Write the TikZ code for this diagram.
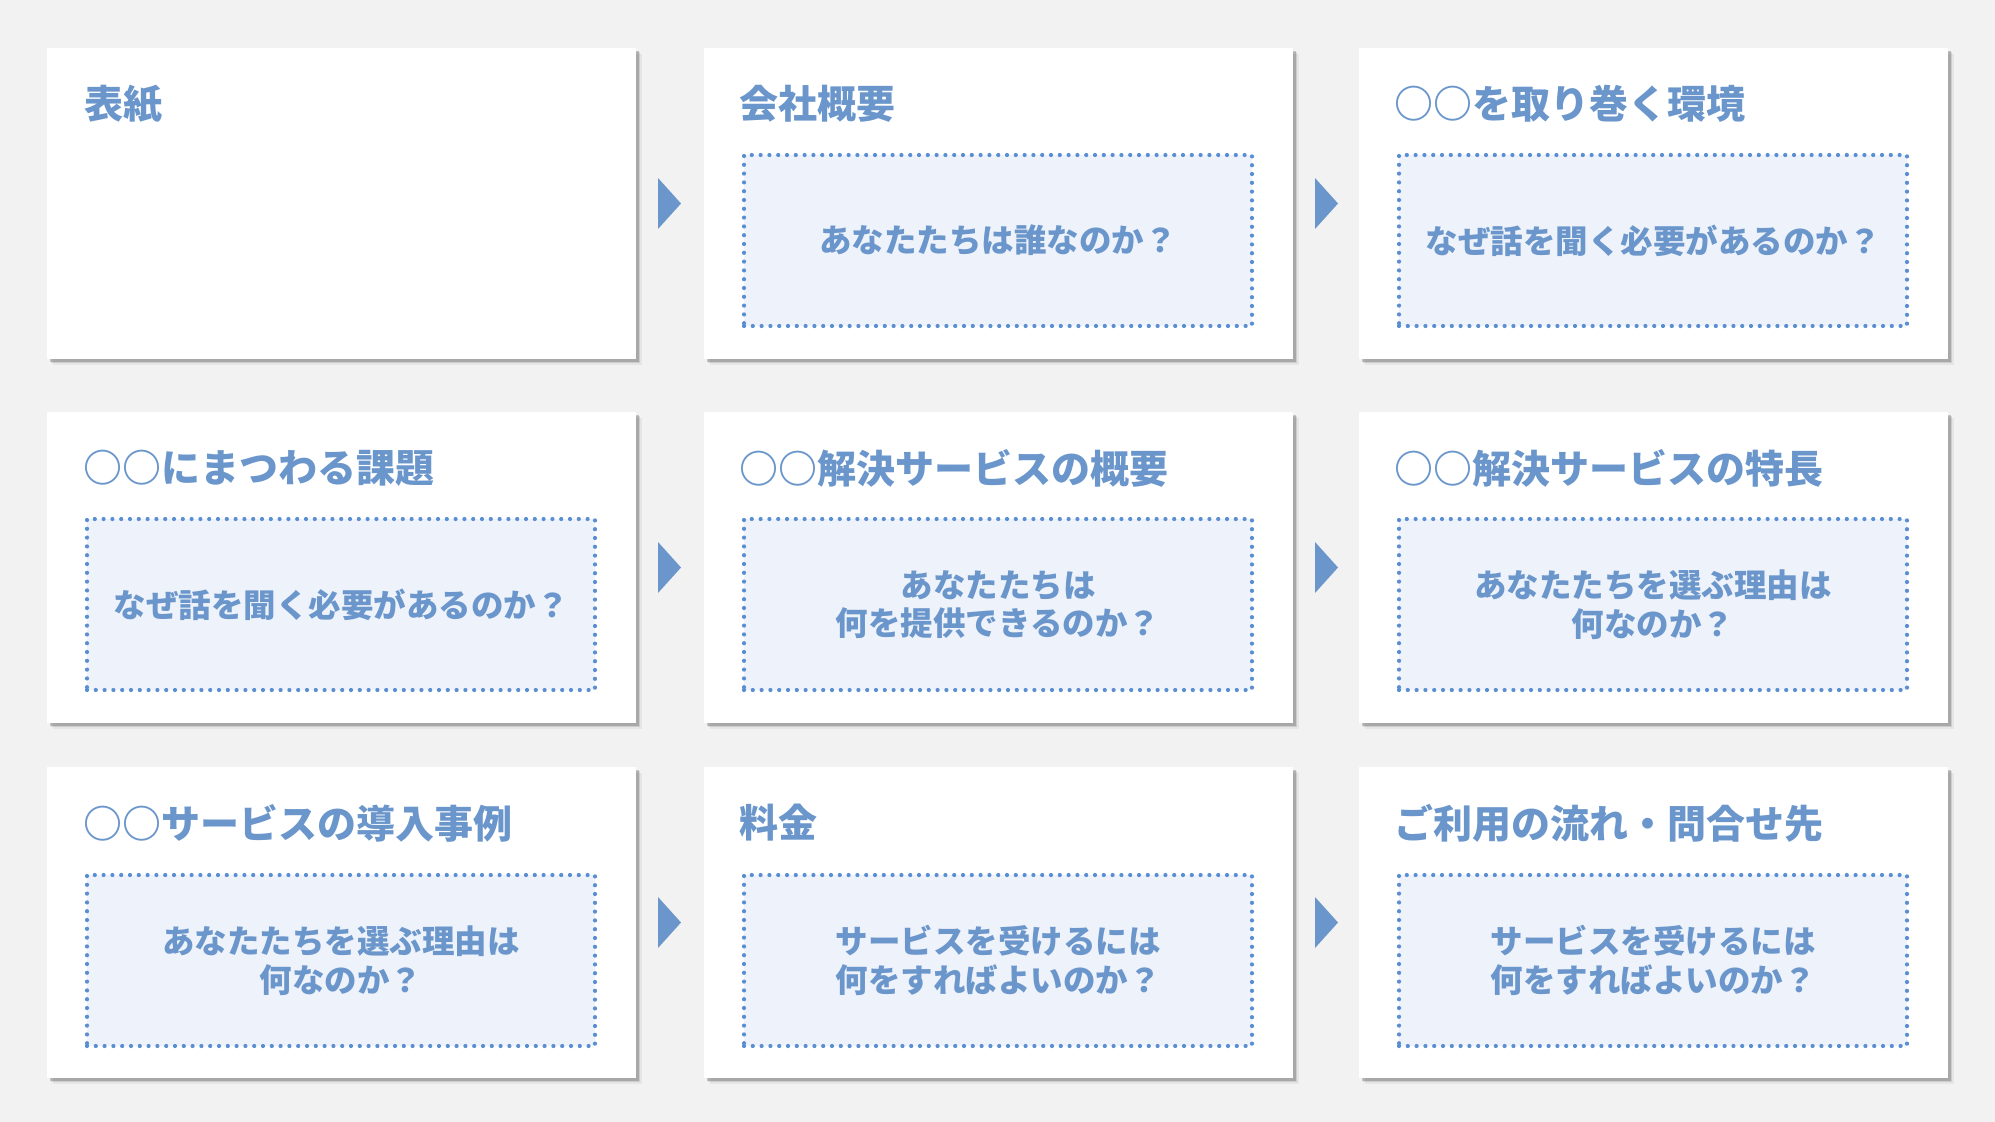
\documentclass[tikz,border=0pt]{standalone}
\usepackage{fontspec}
\newfontfamily\jp{Noto Sans CJK JP}
\usetikzlibrary{shadows,calc}
\definecolor{bgc}{HTML}{F2F2F2}
\definecolor{bluec}{HTML}{6A96CB}
\definecolor{dotc}{HTML}{5A8ED3}
\definecolor{boxc}{HTML}{EEF2FA}
\tikzset{
  card/.style={draw=none,fill=white,rectangle,anchor=north west,inner sep=0pt,outer sep=0pt,
    minimum width=589pt,minimum height=311pt,
    drop shadow={shadow xshift=5.5pt,shadow yshift=-5.5pt,fill=black,opacity=.05},
    drop shadow={shadow xshift=4pt,shadow yshift=-4pt,fill=black,opacity=.10},
    drop shadow={shadow xshift=2.5pt,shadow yshift=-2.5pt,fill=black,opacity=.18}},
  qbox/.style={rectangle,anchor=north west,inner sep=0pt,outer sep=0pt,fill=boxc,draw=dotc,
    line width=4.2pt,line cap=round,dash pattern=on 0pt off 8.8pt,
    minimum width=508pt,minimum height=171pt},
  title/.style={anchor=west,inner sep=0pt,text=bluec,font=\jp\bfseries\fontsize{39}{44}\selectfont},
  qtext/.style={align=center,text=bluec,font=\jp\bfseries\fontsize{32.5}{38.5}\selectfont},
  arrowtri/.style={fill=bluec,draw=none}
}
\begin{document}
\begin{tikzpicture}[x=1pt,y=-1pt]
\fill[bgc] (0,0) rectangle (1995,1122);
\useasboundingbox (0,0) rectangle (1995,1122);
% cards
\node[card] (c1) at (47,48) {};
\node[card] (c2) at (704,48) {};
\node[card] (c3) at (1359,48) {};
\node[card] (c4) at (47,412) {};
\node[card] (c5) at (704,412) {};
\node[card] (c6) at (1359,412) {};
\node[card] (c7) at (47,767) {};
\node[card] (c8) at (704,767) {};
\node[card] (c9) at (1359,767) {};
% titles
\node[title] (t1) at ($(c1.north west)+(37,56)$) {表紙};
\node[title] (t2) at ($(c2.north west)+(35,56)$) {会社概要};
\node[title] (t3) at ($(c3.north west)+(35,56)$) {○○を取り巻く環境};
\node[title] (t4) at ($(c4.north west)+(36,56)$) {○○にまつわる課題};
\node[title] (t5) at ($(c5.north west)+(35,56)$) {○○解決サービスの概要};
\node[title] (t6) at ($(c6.north west)+(35,56)$) {○○解決サービスの特長};
\node[title] (t7) at ($(c7.north west)+(36,56)$) {○○サービスの導入事例};
\node[title] (t8) at ($(c8.north west)+(35,56)$) {料金};
\node[title] (t9) at ($(c9.north west)+(35,56)$) {ご利用の流れ・問合せ先};
% question boxes
\node[qbox] (b2) at ($(c2.north west)+(40,107)$) {};
\node[qbox] (b3) at ($(c3.north west)+(40,107)$) {};
\node[qbox] (b4) at ($(c4.north west)+(40,107)$) {};
\node[qbox] (b5) at ($(c5.north west)+(40,107)$) {};
\node[qbox] (b6) at ($(c6.north west)+(40,107)$) {};
\node[qbox] (b7) at ($(c7.north west)+(40,108)$) {};
\node[qbox] (b8) at ($(c8.north west)+(40,108)$) {};
\node[qbox] (b9) at ($(c9.north west)+(40,108)$) {};
\node[qtext] (q2) at (b2.center) {あなたたちは誰なのか？};
\node[qtext] (q3) at (b3.center) {なぜ話を聞く必要があるのか？};
\node[qtext] (q4) at (b4.center) {なぜ話を聞く必要があるのか？};
\node[qtext] (q5) at (b5.center) {あなたたちは\\何を提供できるのか？};
\node[qtext] (q6) at (b6.center) {あなたたちを選ぶ理由は\\何なのか？};
\node[qtext] (q7) at (b7.center) {あなたたちを選ぶ理由は\\何なのか？};
\node[qtext] (q8) at (b8.center) {サービスを受けるには\\何をすればよいのか？};
\node[qtext] (q9) at (b9.center) {サービスを受けるには\\何をすればよいのか？};
% arrows
\foreach \a in {c1,c2,c4,c5,c7,c8}{
  \fill[arrowtri] ($(\a.east)+(22,-25.5)$) -- ++(23,25.5) -- ++(-23,25.5) -- cycle;
}
\end{tikzpicture}
\end{document}
